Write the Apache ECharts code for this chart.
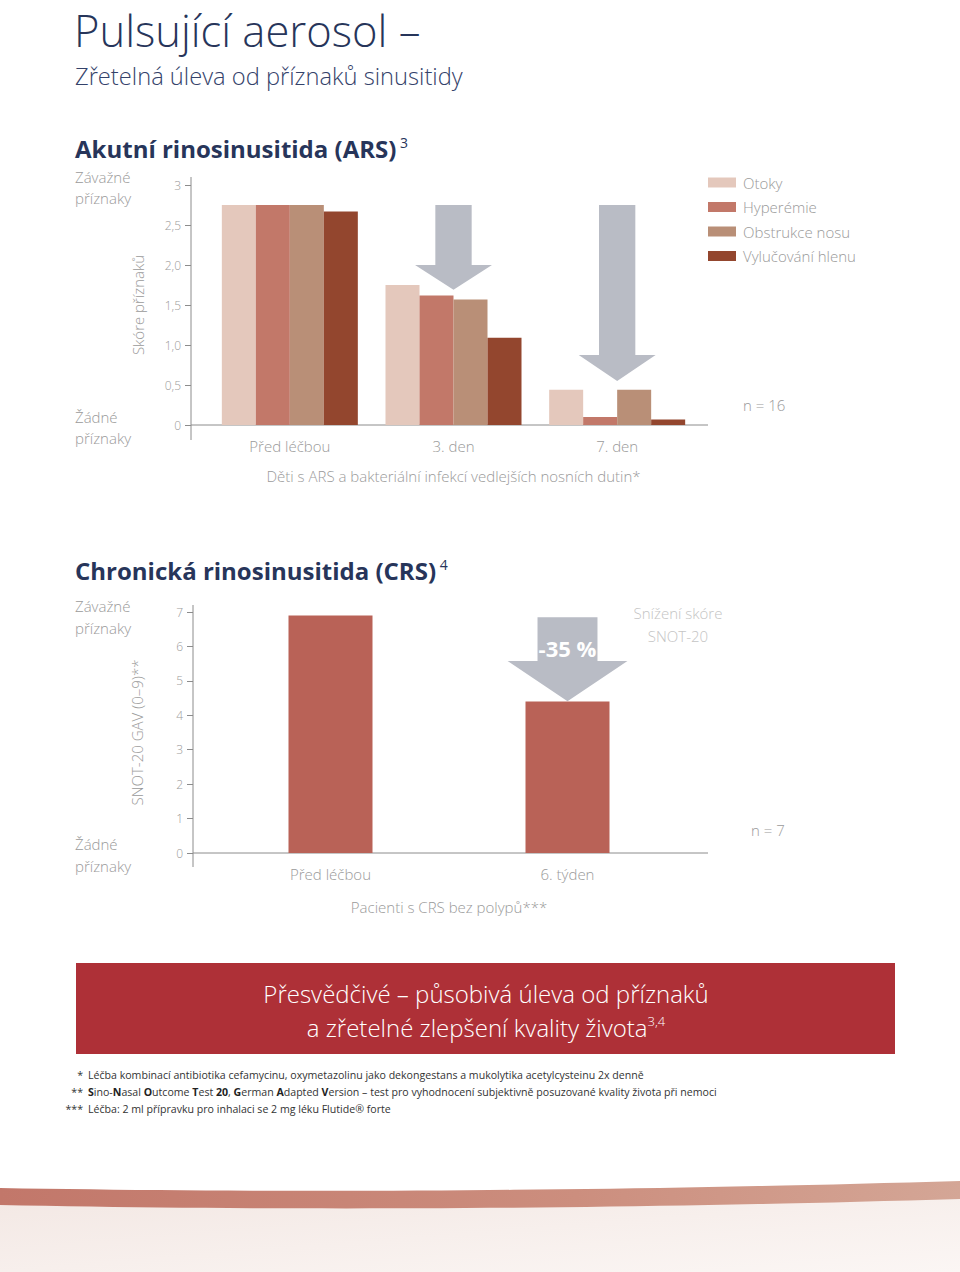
<!DOCTYPE html>
<html>
<head>
<meta charset="utf-8">
<script src="https://cdn.jsdelivr.net/npm/echarts@6/dist/echarts.min.js"></script>
<style>
html,body{margin:0;padding:0;background:#fff;}
#main{width:960px;height:1272px;}
</style>
</head>
<body>
<div id="main"></div>
<script>
// ---------- DATA ----------
const arsCategories = ['Před léčbou', '3. den', '7. den'];
const arsSeriesNames = ['Otoky', 'Hyperémie', 'Obstrukce nosu', 'Vylučování hlenu'];
const arsOtoky = [2.75, 1.75, 0.44];
const arsHyperemie = [2.75, 1.62, 0.10];
const arsObstrukce = [2.75, 1.57, 0.44];
const arsVylucovani = [2.67, 1.09, 0.07];
const arsTickLabels = ['0', '0,5', '1,0', '1,5', '2,0', '2,5', '3'];
// arrows: [category index, top value, head start value, tip value]
const arsArrows = [[1, 2.75, 2.0, 1.69], [2, 2.75, 0.875, 0.55]];

const crsCategories = ['Před léčbou', '6. týden'];
const crsValues = [6.9, 4.4];
const crsTickLabels = ['0', '1', '2', '3', '4', '5', '6', '7'];
const crsArrows = [[1, 6.85, 5.58, 4.41]];
const crsArrowLabels = ['-35 %'];

// ---------- STYLE ----------
const FONT = '"Open Sans", "DejaVu Sans", sans-serif';
const GRAY = '#9a9a9a';
const AXIS = '#8c8c8c';
const NAVY = '#27355a';
const arsColors = ['#e4c8bc', '#c27869', '#b98f77', '#93462e'];
const crsColor = '#b96257';
const arrowColor = '#b9bcc5';

// layout constants
const G0 = {left: 208, top: 185, width: 491, height: 240};
const G1 = {left: 212, top: 612, width: 474, height: 241};

function arrowRenderer(shaftRatio, headRatio, labels, textStyle) {
  return function (params, api) {
    const cat = api.value(0);
    const top = api.coord([cat, api.value(1)]);
    const hs = api.coord([cat, api.value(2)]);
    const tip = api.coord([cat, api.value(3)]);
    const cw = api.size([1, 0])[0];
    const x = top[0];
    const sw = cw * shaftRatio / 2, hw = cw * headRatio / 2;
    const children = [{
      type: 'polygon',
      shape: {points: [[x - sw, top[1]], [x + sw, top[1]], [x + sw, hs[1]], [x + hw, hs[1]], [x, tip[1]], [x - hw, hs[1]], [x - sw, hs[1]]]},
      style: {fill: arrowColor}
    }];
    const label = labels && labels[params.dataIndex];
    if (label) {
      children.push({
        type: 'text',
        x: x, y: (top[1] + hs[1]) / 2 + 9,
        style: Object.assign({text: label, align: 'center', verticalAlign: 'middle'}, textStyle)
      });
    }
    return {type: 'group', children: children};
  };
}

// curved decorative band at the bottom (layout decoration)
function quadPts(x0, y0, cx, cy, x1, y1, n) {
  const pts = [];
  for (let i = 0; i <= n; i++) {
    const t = i / n;
    pts.push([(1 - t) * (1 - t) * x0 + 2 * (1 - t) * t * cx + t * t * x1,
              (1 - t) * (1 - t) * y0 + 2 * (1 - t) * t * cy + t * t * y1]);
  }
  return pts;
}
const bandPts = quadPts(0, 1188, 450, 1196, 960, 1181, 40)
  .concat(quadPts(960, 1199, 450, 1214, 0, 1205, 40));

const chart = echarts.init(document.getElementById('main'), null, {renderer: 'svg'});

const txt = (x, y, text, extra) => ({
  type: 'text', x: x, y: y, silent: true,
  style: Object.assign({text: text, fontFamily: FONT, fill: GRAY, fontSize: 15, fontWeight: 300, verticalAlign: 'middle'}, extra || {})
});

const graphics = [
  // bottom decoration
  {type: 'rect', silent: true, z: -10, shape: {x: 0, y: 1195, width: 960, height: 77},
   style: {fill: new echarts.graphic.LinearGradient(0, 0, 1, 1, [{offset: 0, color: '#f3e8e4'}, {offset: 1, color: '#fbf6f4'}])}},
  {type: 'polygon', silent: true, z: -5, shape: {points: bandPts},
   style: {fill: new echarts.graphic.LinearGradient(0, 0, 1, 0, [{offset: 0, color: '#c2776a'}, {offset: 0.6, color: '#cc8e7e'}, {offset: 1, color: '#d4a696'}])}},
  // titles
  txt(74, 30, 'Pulsující aerosol –', {fontSize: 43.5, fill: NAVY, fontWeight: 300, lineHeight: 46}),
  txt(75, 76, 'Zřetelná úleva od příznaků sinusitidy', {fontSize: 23.7, fill: '#34426a', fontWeight: 300}),
  txt(75, 148, '{t|Akutní rinosinusitida (ARS)}{s| 3}', {
    rich: {t: {fontSize: 24, fontWeight: 'bold', fill: NAVY, fontFamily: FONT},
           s: {fontSize: 14, fill: NAVY, fontFamily: FONT, verticalAlign: 'top', padding: [0, 0, 12, 0]}}
  }),
  txt(75, 570, '{t|Chronická rinosinusitida (CRS)}{s| 4}', {
    rich: {t: {fontSize: 24, fontWeight: 'bold', fill: NAVY, fontFamily: FONT},
           s: {fontSize: 14, fill: NAVY, fontFamily: FONT, verticalAlign: 'top', padding: [0, 0, 12, 0]}}
  }),
  // severity labels ARS
  txt(75, 177, 'Závažné'), txt(75, 198, 'příznaky'),
  txt(75, 417, 'Žádné'), txt(75, 438, 'příznaky'),
  txt(743, 405, 'n = 16'),
  // severity labels CRS
  txt(75, 606, 'Závažné'), txt(75, 628, 'příznaky'),
  txt(75, 844, 'Žádné'), txt(75, 866, 'příznaky'),
  txt(751, 830, 'n = 7'),
  txt(678, 613, 'Snížení skóre', {align: 'center', fill: '#c4c4c4'}),
  txt(678, 636, 'SNOT-20', {align: 'center', fill: '#c4c4c4'}),
  // axis lines (extended like the original)
  {type: 'line', silent: true, shape: {x1: 191, y1: G0.top + G0.height, x2: 708, y2: G0.top + G0.height}, style: {stroke: AXIS, lineWidth: 1}},
  {type: 'line', silent: true, shape: {x1: 191, y1: 177, x2: 191, y2: 440}, style: {stroke: AXIS, lineWidth: 1}},
  {type: 'line', silent: true, shape: {x1: 193, y1: G1.top + G1.height, x2: 708, y2: G1.top + G1.height}, style: {stroke: AXIS, lineWidth: 1}},
  {type: 'line', silent: true, shape: {x1: 193, y1: 605, x2: 193, y2: 867}, style: {stroke: AXIS, lineWidth: 1}},
  // banner
  {type: 'rect', silent: true, shape: {x: 76, y: 963, width: 819, height: 91}, style: {fill: '#ae3037'}},
  txt(486, 993, 'Přesvědčivé – působivá úleva od příznaků', {align: 'center', fill: '#fff', fontSize: 24, fontWeight: 300}),
  txt(486, 1027, '{t|a zřetelné zlepšení kvality života}{s|3,4}', {align: 'center',
    rich: {t: {fontSize: 24, fill: '#fff', fontFamily: FONT, fontWeight: 300},
           s: {fontSize: 13, fill: '#fff', fontFamily: FONT, fontWeight: 300, verticalAlign: 'top', padding: [0, 0, 12, 0]}}
  }),
  // footnotes
  txt(83, 1075, '*', {align: 'right', fontSize: 10.6, fill: '#333', fontWeight: 'normal'}),
  txt(88, 1075, 'Léčba kombinací antibiotika cefamycinu, oxymetazolinu jako dekongestans a mukolytika acetylcysteinu 2x denně', {fontSize: 10.6, fill: '#333', fontWeight: 'normal'}),
  txt(83, 1092, '**', {align: 'right', fontSize: 10.6, fill: '#333', fontWeight: 'normal'}),
  txt(88, 1092, '{b|S}{n|ino-}{b|N}{n|asal }{b|O}{n|utcome }{b|T}{n|est }{b|20}{n|, }{b|G}{n|erman }{b|A}{n|dapted }{b|V}{n|ersion – test pro vyhodnocení subjektivně posuzované kvality života při nemoci}', {
    fontSize: 10.6, fill: '#333',
    rich: {b: {fontWeight: 'bold', fontSize: 10.6, fill: '#222', fontFamily: FONT},
           n: {fontWeight: 'normal', fontSize: 10.6, fill: '#333', fontFamily: FONT}}
  }),
  txt(83, 1109, '***', {align: 'right', fontSize: 10.6, fill: '#333', fontWeight: 'normal'}),
  txt(88, 1109, 'Léčba: 2 ml přípravku pro inhalaci se 2 mg léku Flutide® forte', {fontSize: 10.6, fill: '#333', fontWeight: 'normal'})
];

const axisLabelStyle = {color: GRAY, fontSize: 12, fontFamily: FONT, fontWeight: 300};
const catLabelStyle = {color: GRAY, fontSize: 15, fontFamily: FONT, fontWeight: 300, margin: 13};
const nameStyle = {color: GRAY, fontSize: 15, fontFamily: FONT, fontWeight: 300};

const option = {
  animation: false,
  textStyle: {fontFamily: FONT},
  grid: [
    Object.assign({containLabel: false}, G0),
    Object.assign({containLabel: false}, G1)
  ],
  legend: {
    data: arsSeriesNames,
    orient: 'vertical',
    left: 708, top: 175, padding: 0,
    itemWidth: 28, itemHeight: 10, itemGap: 9.5,
    icon: 'rect',
    textStyle: {color: GRAY, fontSize: 15, fontFamily: FONT, fontWeight: 300, padding: [0, 0, 0, 2]},
    selectedMode: false
  },
  xAxis: [
    {type: 'category', gridIndex: 0, data: arsCategories,
     axisLine: {show: false}, axisTick: {show: false},
     axisLabel: catLabelStyle,
     name: 'Děti s ARS a bakteriální infekcí vedlejších nosních dutin*',
     nameLocation: 'middle', nameGap: 43, nameTextStyle: nameStyle},
    {type: 'category', gridIndex: 1, data: crsCategories,
     axisLine: {show: false}, axisTick: {show: false},
     axisLabel: catLabelStyle,
     name: 'Pacienti s CRS bez polypů***',
     nameLocation: 'middle', nameGap: 46, nameTextStyle: nameStyle}
  ],
  yAxis: [
    {type: 'value', gridIndex: 0, min: 0, max: 3, interval: 0.5, offset: 17,
     axisLine: {show: false}, axisTick: {show: true, length: 6, lineStyle: {color: AXIS}},
     splitLine: {show: false},
     axisLabel: Object.assign({margin: 10, formatter: (v) => arsTickLabels[Math.round(v * 2)]}, axisLabelStyle),
     name: 'Skóre příznaků', nameLocation: 'middle', nameGap: 46, nameTextStyle: nameStyle},
    {type: 'value', gridIndex: 1, min: 0, max: 7, interval: 1, offset: 19,
     axisLine: {show: false}, axisTick: {show: true, length: 6, lineStyle: {color: AXIS}},
     splitLine: {show: false},
     axisLabel: Object.assign({margin: 10, formatter: (v) => crsTickLabels[Math.round(v)]}, axisLabelStyle),
     name: 'SNOT-20 GAV (0–9)**', nameLocation: 'middle', nameGap: 49, nameTextStyle: nameStyle}
  ],
  series: [
    {name: arsSeriesNames[0], type: 'bar', xAxisIndex: 0, yAxisIndex: 0, data: arsOtoky, barWidth: 34, barGap: '0%', itemStyle: {color: arsColors[0]}},
    {name: arsSeriesNames[1], type: 'bar', xAxisIndex: 0, yAxisIndex: 0, data: arsHyperemie, barWidth: 34, barGap: '0%', itemStyle: {color: arsColors[1]}},
    {name: arsSeriesNames[2], type: 'bar', xAxisIndex: 0, yAxisIndex: 0, data: arsObstrukce, barWidth: 34, barGap: '0%', itemStyle: {color: arsColors[2]}},
    {name: arsSeriesNames[3], type: 'bar', xAxisIndex: 0, yAxisIndex: 0, data: arsVylucovani, barWidth: 34, barGap: '0%', itemStyle: {color: arsColors[3]}},
    {name: 'arsArrows', type: 'custom', xAxisIndex: 0, yAxisIndex: 0, data: arsArrows, silent: true,
     renderItem: arrowRenderer(0.222, 0.47)},
    {name: 'CRS', type: 'bar', xAxisIndex: 1, yAxisIndex: 1, data: crsValues, barWidth: 84, itemStyle: {color: crsColor}},
    {name: 'crsArrows', type: 'custom', xAxisIndex: 1, yAxisIndex: 1, data: crsArrows, silent: true,
     renderItem: arrowRenderer(0.253, 0.506, crsArrowLabels, {fill: '#fff', fontSize: 22, fontWeight: 'bold', fontFamily: FONT})}
  ],
  graphic: graphics
};
chart.setOption(option);
</script>
</body>
</html>
